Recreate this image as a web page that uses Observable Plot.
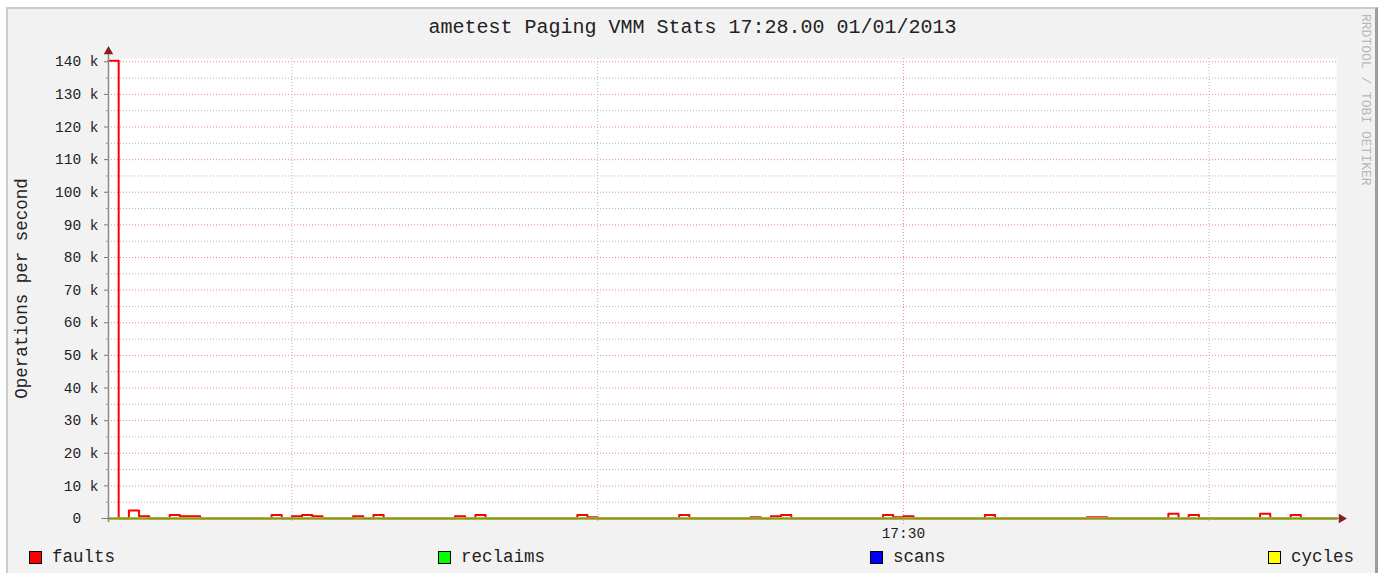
<!DOCTYPE html>
<html>
<head>
<meta charset="utf-8">
<script src="https://cdn.jsdelivr.net/npm/d3@7"></script>
<script src="https://cdn.jsdelivr.net/npm/@observablehq/plot@0.6"></script>
<style>
html, body { margin: 0; padding: 0; background: #ffffff; }
#wrap { position: relative; width: 1385px; height: 573px; overflow: hidden; font-family: "Liberation Mono", "DejaVu Sans Mono", monospace; color: #222; }
#frame { position: absolute; left: 6px; top: 7px; width: 1367px; height: 620px; background: #f2f2f2; border-top: 2px solid #cbcbcb; border-left: 2px solid #cbcbcb; border-right: 3px solid #9c9c9c; }
#title { position: absolute; left: 0; top: 16px; width: 1385px; text-align: center; font-size: 20px; line-height: 24px; color: #222; }
#chart { position: absolute; left: 0; top: 40px; }
#mark { position: absolute; left: 1358px; top: 14px; writing-mode: vertical-rl; font-size: 13px; line-height: 14px; color: #b8b8b8; }
.lg { position: absolute; top: 547px; height: 20px; display: flex; align-items: center; font-size: 17.5px; color: #222; white-space: pre; }
.sw { width: 11px; height: 11px; border: 1px solid #000; margin-right: 10px; box-sizing: content-box; }
</style>
</head>
<body>
<div id="wrap">
  <div id="frame"></div>
  <div id="title"></div>
  <div id="mark"></div>
  <div id="chart"></div>
</div>
<script>
// ---- data ----
const titleText = "ametest Paging VMM Stats 17:28.00 01/01/2013";
const yAxisTitle = "Operations per second";
const watermark = "RRDTOOL / TOBI OETIKER";
const seriesNames = ["faults", "reclaims", "scans", "cycles"];
const seriesColors = ["#ff0000", "#00ff00", "#0000ff", "#ffff00"];

// one sample per second starting 17:28:42 (UTC used for stable rendering)
const startTime = Date.UTC(2013, 0, 1, 17, 28, 42);
const endOffsetSeconds = 120.5;

const faults = [
  140300, 0, 2450, 700, 0, 0, 1100, 700, 700, 0,
  0, 0, 0, 0, 0, 0, 1100, 0, 700, 1100,
  700, 0, 0, 0, 700, 0, 1100, 0, 0, 0,
  0, 0, 0, 0, 700, 0, 1100, 0, 0, 0,
  0, 0, 0, 0, 0, 0, 1100, 400, 0, 0,
  0, 0, 0, 0, 0, 0, 1100, 0, 0, 0,
  0, 0, 0, 400, 0, 700, 1100, 0, 0, 0,
  0, 0, 0, 0, 0, 0, 1100, 400, 700, 0,
  0, 0, 0, 0, 0, 0, 1100, 0, 0, 0,
  0, 0, 0, 0, 0, 0, 400, 400, 0, 0,
  0, 0, 0, 0, 1450, 0, 1100, 0, 0, 0,
  0, 0, 0, 1450, 0, 0, 1100, 0, 0, 0,
  0
];
const reclaims = [
  0,0,0,0,0,0,0,0,0,0, 0,0,0,0,0,0,0,0,0,0, 0,0,0,0,0,0,0,0,0,0,
  0,0,0,0,0,0,0,0,0,0, 0,0,0,0,0,0,0,0,0,0, 0,0,0,0,0,0,0,0,0,0,
  0,0,0,0,0,0,0,0,0,0, 0,0,0,0,0,0,0,0,0,0, 0,0,0,0,0,0,0,0,0,0,
  0,0,0,0,0,0,0,0,0,0, 0,0,0,0,0,0,0,0,0,0, 0,0,0,0,0,0,0,0,0,0, 0
];
const scans = [
  0,0,0,0,0,0,0,0,0,0, 0,0,0,0,0,0,0,0,0,0, 0,0,0,0,0,0,0,0,0,0,
  0,0,0,0,0,0,0,0,0,0, 0,0,0,0,0,0,0,0,0,0, 0,0,0,0,0,0,0,0,0,0,
  0,0,0,0,0,0,0,0,0,0, 0,0,0,0,0,0,0,0,0,0, 0,0,0,0,0,0,0,0,0,0,
  0,0,0,0,0,0,0,0,0,0, 0,0,0,0,0,0,0,0,0,0, 0,0,0,0,0,0,0,0,0,0, 0
];
const cycles = [
  0,0,0,0,0,0,0,0,0,0, 0,0,0,0,0,0,0,0,0,0, 0,0,0,0,0,0,0,0,0,0,
  0,0,0,0,0,0,0,0,0,0, 0,0,0,0,0,0,0,0,0,0, 0,0,0,0,0,0,0,0,0,0,
  0,0,0,0,0,0,0,0,0,0, 0,0,0,0,0,0,0,0,0,0, 0,0,0,0,0,0,0,0,0,0,
  0,0,0,0,0,0,0,0,0,0, 0,0,0,0,0,0,0,0,0,0, 0,0,0,0,0,0,0,0,0,0, 0
];

const yMajorTicks = [0, 10000, 20000, 30000, 40000, 50000, 60000, 70000, 80000, 90000, 100000, 110000, 120000, 130000, 140000];
const yMinorTicks = [5000, 15000, 25000, 35000, 45000, 55000, 65000, 75000, 85000, 95000, 105000, 115000, 125000, 135000];
const xMinorGridTimes = ["17:29:00", "17:29:30", "17:30:30"];
const xMajorGridTimes = ["17:30:00"];
const xTickLabels = ["17:30"];

// ---- build ----
const at = (s) => new Date(startTime + s * 1000);
const parseClock = (str) => { const [h, m, s] = str.split(":").map(Number); return new Date(Date.UTC(2013, 0, 1, h, m, s)); };
function rows(values) {
  const r = values.map((v, i) => ({t: at(i), v}));
  r.push({t: at(endOffsetSeconds), v: values[values.length - 1]});
  return r;
}
const seriesValues = [faults, reclaims, scans, cycles];

document.getElementById("title").textContent = titleText;
document.getElementById("mark").textContent = watermark;

const legendLeft = [29, 438, 870, 1268];
const wrap = document.getElementById("wrap");
seriesNames.forEach((name, i) => {
  const d = document.createElement("div");
  d.className = "lg";
  d.style.left = legendLeft[i] + "px";
  const sw = document.createElement("div");
  sw.className = "sw";
  sw.style.background = seriesColors[i];
  d.appendChild(sw);
  d.appendChild(document.createTextNode(name));
  wrap.appendChild(d);
});

const majorGridColor = "#ec8a8a";
const minorGridColor = "#b4b4b4";
const arrowColor = "#8b1c1c";

const chart = Plot.plot({
  width: 1385,
  height: 500,
  marginLeft: 108,
  marginRight: 49,
  marginTop: 18,
  marginBottom: 22,
  style: {background: "transparent", fontFamily: "Liberation Mono, DejaVu Sans Mono, monospace", overflow: "visible", color: "#222"},
  x: {type: "utc", domain: [at(0), at(endOffsetSeconds)]},
  y: {domain: [0, 141000]},
  marks: [
    Plot.frame({fill: "#ffffff", stroke: null}),
    Plot.ruleY(yMinorTicks, {stroke: minorGridColor, strokeDasharray: "1,2", strokeWidth: 1}),
    Plot.ruleY(yMajorTicks.filter(d => d > 0), {stroke: majorGridColor, strokeDasharray: "1,2", strokeWidth: 1}),
    Plot.ruleX(xMinorGridTimes.map(parseClock), {stroke: minorGridColor, strokeDasharray: "1,2", insetBottom: -4}),
    Plot.ruleX(xMajorGridTimes.map(parseClock), {stroke: majorGridColor, strokeDasharray: "1,2", insetBottom: -7}),
    ...seriesValues.map((vals, i) => Plot.line(rows(vals), {x: "t", y: "v", curve: "step-after", stroke: seriesColors[i], strokeWidth: 2})),
    Plot.ruleY([0], {stroke: "#5a4a10", strokeOpacity: 0.6, strokeWidth: 1, insetLeft: -7, insetRight: -4}),
    Plot.ruleX([at(0)], {stroke: "#8a8a8a", strokeWidth: 1.5, insetTop: -5, insetBottom: -4}),
    Plot.dot([at(0)], {x: d => d, frameAnchor: "top", dy: -7, symbol: "triangle", r: 3.5, fill: arrowColor, stroke: null}),
    Plot.dot([0], {y: d => d, frameAnchor: "right", dx: 5, symbol: "triangle", rotate: 90, r: 3.5, fill: arrowColor, stroke: null}),
    Plot.axisY(yMajorTicks, {
      tickSize: 4, tickPadding: 6, label: null, fontSize: 14.5, stroke: "#777", fill: "#222",
      tickFormat: d => d === 0 ? "0\u00a0\u00a0" : (d / 1000) + "\u00a0k"
    }),
    Plot.axisY(yMinorTicks, {tickSize: 2, tickPadding: 0, label: null, tickFormat: () => "", stroke: "#999"}),
    Plot.axisX(xTickLabels.map(s => parseClock(s + ":00")), {
      tickSize: 0, tickPadding: 9, label: null, fontSize: 14.5, fill: "#222",
      tickFormat: d3.utcFormat("%H:%M")
    }),
    Plot.text([yAxisTitle], {text: d => d, frameAnchor: "left", textAnchor: "middle", rotate: -90, dx: -87, fontSize: 17.5, fill: "#222"})
  ]
});
document.getElementById("chart").appendChild(chart);
</script>
</body>
</html>
